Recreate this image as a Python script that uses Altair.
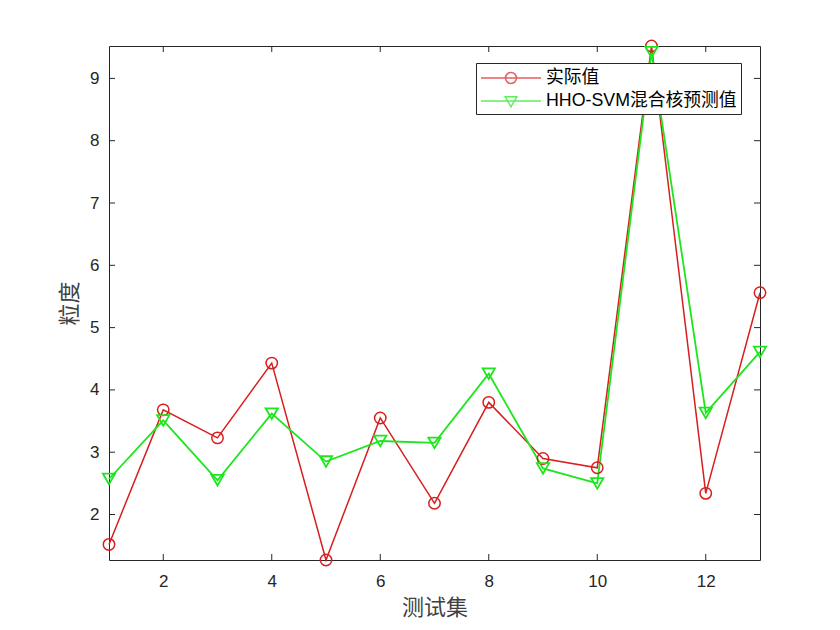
import altair as alt
import pandas as pd

# ---- data ----
test_idx = [1, 2, 3, 4, 5, 6, 7, 8, 9, 10, 11, 12, 13]
actual = [1.52, 3.68, 3.23, 4.43, 1.27, 3.55, 2.18, 3.80, 2.90, 2.75, 9.52, 2.34, 5.56]
predicted = [2.57, 3.51, 2.55, 3.62, 2.85, 3.18, 3.15, 4.26, 2.74, 2.50, 9.42, 3.63, 4.61]
series_names = ["实际值", "HHO-SVM混合核预测值"]
x_ticks = [2, 4, 6, 8, 10, 12]
y_ticks = [2, 3, 4, 5, 6, 7, 8, 9]

RED = "#d81e1e"
GREEN = "#1ee61e"
W, H = 651, 514

df_a = pd.DataFrame({"x": test_idx, "y": actual, "series": series_names[0]})
df_p = pd.DataFrame({"x": test_idx, "y": predicted, "series": series_names[1]})
df = pd.concat([df_a, df_p], ignore_index=True)

ymin = min(actual + predicted)
ymax = max(actual + predicted)

xs = alt.Scale(domain=[1, 13], nice=False, zero=False)
ys = alt.Scale(domain=[ymin, ymax], nice=False, zero=False)

FONT = "Liberation Sans, Noto Sans CJK SC"
CJK = "Noto Sans CJK SC"

x_axis = alt.Axis(values=x_ticks, title="测试集", ticks=False, domain=False,
                  grid=False, labelFontSize=17, labelColor="#262626",
                  labelPadding=13, labelFont=FONT, titleFont=CJK,
                  titleFontSize=22, titleFontWeight="normal",
                  titleColor="#404040", titlePadding=8)
y_axis = alt.Axis(values=y_ticks, title="粒度", ticks=False, domain=False,
                  grid=False, labelFontSize=17, labelColor="#262626",
                  labelPadding=10, labelFont=FONT, titleFont=CJK,
                  titleFontSize=22, titleFontWeight="normal",
                  titleColor="#404040", titlePadding=8)
x_main = alt.X("x:Q", scale=xs, axis=x_axis)
y_main = alt.Y("y:Q", scale=ys, axis=y_axis)

red_line = alt.Chart(df_a).mark_line(color=RED, strokeWidth=1.5).encode(x=x_main, y=y_main)
green_line = alt.Chart(df_p).mark_line(color=GREEN, strokeWidth=1.8).encode(x=x_main, y=y_main)
red_pts = alt.Chart(df_a).mark_point(shape="circle", filled=False, color=RED, size=130,
                                     strokeWidth=1.5, opacity=1).encode(x=x_main, y=y_main)
green_pts = alt.Chart(df_p).mark_point(shape="triangle-down", filled=False, color=GREEN, size=150,
                                       strokeWidth=1.8, opacity=1).encode(x=x_main, y=y_main)

# legend carrier (marks clipped away; only the legend is visible)
circ_path = "M-1,0H5M2.55,0A0.55,0.55,0,1,1,1.45,0A0.55,0.55,0,1,1,2.55,0Z"
tri_path = "M-1,0H5M1.42,-0.42L2.58,-0.42L2,0.58Z"
leg = alt.Legend(title=None, orient="none", legendX=367, legendY=17,
                 labelFontSize=17.8, labelFont=FONT, labelColor="#000000", labelLimit=400,
                 symbolSize=400, symbolStrokeWidth=1.5, labelOffset=44,
                 padding=4, strokeColor="#262626", fillColor="white",
                 rowPadding=3, symbolFillColor="transparent")
legend_layer = alt.Chart(df).mark_point(filled=False, clip=True, strokeWidth=1.5).encode(
    x=x_main,
    y=alt.value(-200),
    color=alt.Color("series:N", scale=alt.Scale(domain=series_names, range=[RED, GREEN]), legend=leg),
    shape=alt.Shape("series:N", scale=alt.Scale(domain=series_names, range=[circ_path, tri_path]), legend=leg),
)

# inward ticks on all four sides
xt = pd.DataFrame({"x": x_ticks})
yt = pd.DataFrame({"y": y_ticks})
tick_style = dict(color="#262626", strokeWidth=1)
xb = alt.Chart(xt).mark_rule(**tick_style).encode(x=x_main, y=alt.value(H), y2=alt.value(H - 6))
xtp = alt.Chart(xt).mark_rule(**tick_style).encode(x=x_main, y=alt.value(0), y2=alt.value(6))
yl = alt.Chart(yt).mark_rule(**tick_style).encode(y=y_main, x=alt.value(0), x2=alt.value(6))
yr = alt.Chart(yt).mark_rule(**tick_style).encode(y=y_main, x=alt.value(W), x2=alt.value(W - 6))

chart = alt.layer(red_line, green_line, red_pts, green_pts, legend_layer, xb, xtp, yl, yr).properties(
    width=W, height=H,
    autosize=alt.AutoSizeParams(type="none"),
    padding={"left": 101, "top": 38, "right": 64, "bottom": 62},
    background="white",
).configure_view(stroke="#262626", strokeWidth=1)

chart.save("out.html", embed_options={"renderer": "svg", "actions": False})
